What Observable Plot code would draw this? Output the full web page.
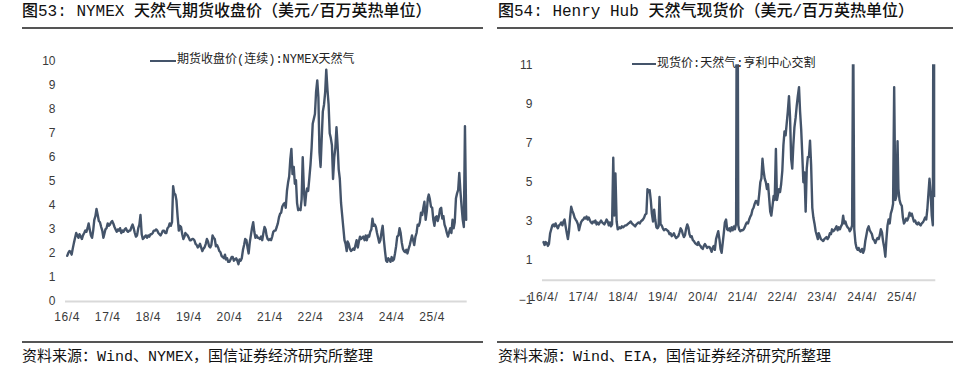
<!DOCTYPE html>
<html><head><meta charset="utf-8">
<script src="https://cdn.jsdelivr.net/npm/d3@7"></script>
<script src="https://cdn.jsdelivr.net/npm/@observablehq/plot@0.6"></script>
<style>
body{margin:0;background:#fff;width:961px;height:373px;position:relative;overflow:hidden;font-family:"Liberation Mono","Noto Sans CJK SC",sans-serif;}
.abs{position:absolute;white-space:nowrap;}
.title{font-size:16px;line-height:16px;color:#111;font-weight:500;}
.rule{height:2px;background:#555;}
.cap{font-size:15px;line-height:15px;color:#111;}
.leg{font-size:12px;line-height:12px;color:#222;}
.legline{height:2px;background:#44546a;}
.chart{position:absolute;top:0;}
.chart g[aria-label="x-axis tick label"] text{letter-spacing:0.6px;}
</style></head>
<body>
<div id="left" class="chart" style="left:0"></div>
<div id="right" class="chart" style="left:480px"></div>

<div class="abs title" style="left:22px;top:4px">图53: NYMEX 天然气期货收盘价（美元/百万英热单位）</div>
<div class="abs rule" style="left:22px;top:27px;width:461px"></div>
<div class="abs title" style="left:498px;top:4px">图54: Henry Hub 天然气现货价（美元/百万英热单位）</div>
<div class="abs rule" style="left:497px;top:27px;width:456px"></div>

<div class="abs legline" style="left:150px;top:60px;width:26px"></div>
<div class="abs leg" style="left:177px;top:54px">期货收盘价(连续):NYMEX天然气</div>
<div class="abs legline" style="left:632px;top:63px;width:24px"></div>
<div class="abs leg" style="left:657px;top:58px">现货价:天然气:亨利中心交割</div>

<div class="abs rule" style="left:22px;top:341px;width:461px"></div>
<div class="abs rule" style="left:497px;top:341px;width:456px"></div>
<div class="abs cap" style="left:22px;top:350px">资料来源：Wind、NYMEX，国信证券经济研究所整理</div>
<div class="abs cap" style="left:498px;top:350px">资料来源：Wind、EIA，国信证券经济研究所整理</div>

<script>
// ---- data: three readings per month (1st, 11th, 21st), starting April 2016 ----
const seriesStart = "2016-04";
const nymexValues = [
  /*2016*/ 1.90,2.02,2.10, 2.08,1.95,2.20, 2.45,2.65,2.85, 2.75,2.65,2.80, 2.70,2.60,2.75, 2.85,2.95,2.90, 3.05,3.25,3.00, 2.75,2.65,2.95, 3.40,3.55,3.85,
  /*2017*/ 3.60,3.35,3.30, 3.10,2.95,2.65, 2.80,3.00,3.05, 3.25,3.15,3.20, 3.30,3.35,3.25, 3.10,3.00,2.90, 3.00,2.95,3.05, 2.85,2.95,2.90, 3.00,3.05,2.95, 2.90,2.95,2.95, 3.10,3.20,3.05, 2.85,2.70,2.75,
  /*2018*/ 3.05,3.20,3.60, 2.80,2.60,2.65, 2.70,2.75,2.65, 2.75,2.70,2.80, 2.80,2.85,2.95, 2.95,3.00,2.95, 2.85,2.80,2.75, 2.85,2.95,2.95, 2.85,2.85,3.05, 3.10,3.25,3.15, 3.30,4.80,4.50, 4.45,4.20,3.55,
  /*2019*/ 2.95,3.15,3.10, 2.80,2.60,2.70, 2.85,2.80,2.75, 2.65,2.55,2.55, 2.60,2.60,2.55, 2.40,2.35,2.25, 2.30,2.40,2.25, 2.10,2.20,2.25, 2.40,2.60,2.50, 2.30,2.25,2.35, 2.75,2.65,2.60, 2.30,2.35,2.25,
  /*2020*/ 2.10,2.05,1.90, 1.85,1.80,1.95, 1.75,1.80,1.65, 1.65,1.75,1.85, 1.85,1.70,1.75, 1.80,1.70,1.55, 1.75,1.70,1.80, 2.15,2.35,2.60, 2.55,2.25,2.00, 2.45,2.75,3.05, 3.30,2.90,2.65, 2.75,2.65,2.65,
  /*2021*/ 2.60,2.70,2.55, 2.85,3.10,3.00, 2.75,2.60,2.55, 2.60,2.55,2.70, 2.90,2.95,2.95, 3.10,3.25,3.50, 3.65,3.70,3.95, 4.05,4.10,3.90, 4.60,4.95,5.20, 5.90,6.35,5.30, 5.60,4.90,5.05, 4.10,3.80,3.85,
  /*2022*/ 3.80,4.25,6.00, 4.60,4.00,4.50, 4.70,4.60,5.10, 5.70,6.40,7.40, 7.60,7.80,8.70, 9.20,8.50,6.20, 5.60,6.80,7.90, 8.20,8.70,9.65, 8.80,8.20,7.00, 6.80,6.50,5.10, 6.00,6.40,7.25, 6.50,5.50,5.10,
  /*2023*/ 4.10,3.60,3.10, 2.55,2.40,2.10, 2.50,2.40,2.20, 2.10,2.15,2.20, 2.15,2.35,2.55, 2.25,2.50,2.70, 2.60,2.65,2.70, 2.55,2.75,2.55, 2.75,2.70,2.90, 3.00,3.45,3.15, 3.20,3.10,2.85, 2.65,2.45,2.55,
  /*2024*/ 2.90,3.15,2.60, 2.10,1.70,1.65, 1.80,1.75,1.65, 1.85,1.70,1.75, 2.00,2.30,2.70, 2.75,3.05,2.85, 2.45,2.20,2.10, 2.05,2.15,2.00, 2.20,2.35,2.55, 2.75,2.55,2.35, 2.70,2.85,3.20, 3.15,3.30,3.70,
  /*2025*/ 3.60,3.90,4.15, 3.40,3.75,4.30, 4.45,4.25,3.95, 3.90,3.40,3.15, 3.50,3.55,3.35, 3.55,3.85,3.90, 3.45,3.55,3.20, 3.05,2.85,2.70, 2.90,3.05,2.85, 3.40,3.05,3.30, 4.30,4.50,4.65, 5.35,4.60,4.00,
  /*2026*/ 3.40,3.10,7.30, 3.40
];
const henryHubValues = [
  /*2016*/ 1.95,1.80,1.95, 1.90,1.75,1.85, 2.40,2.60,2.80, 2.85,2.75,2.90, 2.75,2.65,2.80, 2.85,2.95,2.80, 3.00,3.10,2.75, 2.40,2.10,2.50, 3.20,3.75,3.55,
  /*2017*/ 3.40,3.20,3.10, 3.00,2.85,2.55, 2.75,2.95,3.05, 3.10,3.20,3.15, 3.25,3.10,3.20, 3.05,2.95,2.90, 3.00,2.95,3.05, 2.85,2.95,2.85, 2.95,3.05,2.95, 2.90,2.85,2.95, 3.10,3.00,2.80, 2.95,2.75,2.85,
  /*2018*/ 6.25,3.30,5.45, 3.00,2.60,2.65, 2.70,2.65,2.75, 2.70,2.75,2.80, 2.80,2.85,2.90, 2.95,3.00,2.90, 2.85,2.80,2.75, 2.85,2.90,2.95, 2.90,3.00,3.05, 3.10,3.20,3.35, 3.40,4.65,4.50, 4.60,4.10,3.40,
  /*2019*/ 3.00,3.60,3.10, 2.70,2.65,2.75, 4.25,2.85,2.80, 2.65,2.55,2.60, 2.60,2.55,2.50, 2.35,2.40,2.25, 2.30,2.40,2.25, 2.15,2.20,2.25, 2.45,2.65,2.55, 2.35,2.20,2.30, 2.65,2.85,2.70, 2.35,2.20,2.25,
  /*2020*/ 2.05,2.00,1.90, 1.85,1.80,1.95, 1.80,1.75,1.65, 1.60,1.75,1.85, 1.75,1.65,1.70, 1.70,1.60,1.45, 1.65,1.75,1.55, 2.10,2.30,2.50, 2.10,1.60,1.40, 1.90,2.40,2.95, 3.10,2.60,2.55, 2.65,2.50,2.70,
  /*2021*/ 2.55,2.75,2.60, 2.90,23.86,2.80, 2.60,2.50,2.55, 2.55,2.60,2.70, 2.85,2.95,2.90, 3.10,3.25,3.35, 3.60,3.70,3.90, 4.05,4.00,3.85, 4.40,5.00,5.20, 6.20,5.60,5.20, 5.00,4.65,4.90, 4.20,3.50,3.30,
  /*2022*/ 3.80,4.30,4.10, 6.70,4.10,4.40, 4.65,4.50,4.90, 5.60,6.90,7.60, 7.40,8.00,8.60, 9.40,8.30,6.20, 5.70,6.90,7.80, 8.30,8.90,9.40, 9.86,8.60,7.70, 6.40,5.00,5.50, 3.50,5.70,6.30, 6.30,7.13,5.90,
  /*2023*/ 3.70,3.20,2.90, 2.50,2.30,2.10, 2.40,2.25,2.10, 2.05,2.00,2.10, 2.15,2.20,2.10, 2.20,2.40,2.35, 2.60,2.50,2.55, 2.65,2.75,2.55, 2.70,2.60,2.75, 2.85,3.30,2.90, 3.00,2.80,2.70, 2.65,2.50,2.60,
  /*2024*/ 2.80,13.20,2.60, 1.90,1.65,1.55, 1.65,1.50,1.45, 1.60,1.40,1.55, 2.00,2.30,2.60, 2.75,2.55,2.45, 2.35,2.10,2.05, 1.90,2.05,2.15, 2.10,2.30,2.60, 2.45,2.00,1.70, 1.20,2.10,2.80, 3.10,2.90,3.40,
  /*2025*/ 3.60,3.90,9.86, 4.10,4.30,7.10, 4.67,4.10,3.90, 3.80,3.20,2.90, 3.00,3.15,3.05, 3.20,3.45,3.30, 3.40,3.20,3.00, 3.05,2.90,2.85, 2.95,2.85,2.80, 2.90,2.95,3.05, 3.20,3.10,3.60, 4.40,5.18,4.50,
  /*2026*/ 3.30,2.80,30.00, 4.30
];
const readingDays = [0, 10, 20];
const leftTickLabels = ["16/4","17/4","18/4","19/4","20/4","21/4","22/4","23/4","24/4","25/4"];
const rightTickLabels = ["16/4/","17/4/","18/4/","19/4/","20/4/","21/4/","22/4/","23/4/","24/4/","25/4/"];
const leftYTicks = [0,1,2,3,4,5,6,7,8,9,10];
const rightYTicks = [-1,1,3,5,7,9,11];

function build(values) {
  const s = d3.utcParse("%Y-%m")(seriesStart);
  return values.map((v, i) => ({
    date: d3.utcDay.offset(d3.utcMonth.offset(s, Math.floor(i / 3)), readingDays[i % 3]),
    value: v
  }));
}
const nymex = build(nymexValues);
const henry = build(henryHubValues);

const leftTicks = leftTickLabels.map(d3.utcParse("%y/%m"));
const leftMap = new Map(leftTicks.map((d, i) => [+d, leftTickLabels[i]]));
const rightTicks = rightTickLabels.map(d3.utcParse("%y/%m/"));
const rightMap = new Map(rightTicks.map((d, i) => [+d, rightTickLabels[i]]));

const lineColor = "#44546a";
const axisStyle = {background: "transparent", fontFamily: "'Liberation Sans', Arial, sans-serif", fontSize: "12px", color: "#3a3a3a", overflow: "visible"};

const left = Plot.plot({
  width: 480, height: 340,
  marginLeft: 65, marginRight: 13.3, marginTop: 60.7, marginBottom: 39,
  style: axisStyle,
  x: {type: "utc", domain: [leftTicks[0], leftTicks[leftTicks.length - 1]], range: [66.7, 431.7]},
  y: {domain: [0, 10], range: [301, 60.7]},
  marks: [
    Plot.ruleY([0], {stroke: "#d9d9d9", strokeWidth: 2}),
    Plot.axisY(leftYTicks, {tickSize: 0, tickPadding: 10, label: null}),
    Plot.axisX(leftTicks, {tickSize: 0, tickPadding: 11, label: null, tickFormat: d => leftMap.get(+d)}),
    Plot.line(nymex, {x: "date", y: "value", stroke: lineColor, strokeWidth: 2.4})
  ]
});
document.getElementById("left").appendChild(left);

const right = Plot.plot({
  width: 481, height: 340,
  marginLeft: 62, marginRight: 25.7, marginTop: 64.3, marginBottom: 60.3,
  style: axisStyle,
  x: {type: "utc", domain: [rightTicks[0], rightTicks[rightTicks.length - 1]], range: [63, 421.3]},
  y: {domain: [-1, 11], range: [299.3, 64.3]},
  marks: [
    Plot.ruleY([0], {stroke: "#d9d9d9", strokeWidth: 2}),
    Plot.axisY(rightYTicks, {tickSize: 0, tickPadding: 10, label: null}),
    Plot.axisX(rightTicks, {tickSize: 0, tickPadding: 12, label: null, tickFormat: d => rightMap.get(+d)}),
    Plot.line(henry, {x: "date", y: "value", stroke: lineColor, strokeWidth: 2.4, clip: true})
  ]
});
document.getElementById("right").appendChild(right);
</script>
</body></html>
